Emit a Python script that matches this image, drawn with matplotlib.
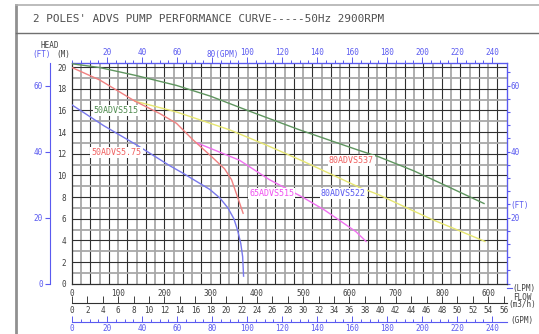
import numpy as np
import matplotlib.pyplot as plt
from matplotlib.lines import Line2D

# curve data: flow (LPM) vs head (m)
q_515 = [0, 60, 140, 226, 300, 379, 492, 621, 664, 740, 816, 891]
h_515 = [20.3, 19.95, 19.2, 18.3, 17.3, 16.0, 14.2, 12.3, 11.7, 10.4, 8.9, 7.4]

q_537 = [136, 226, 341, 420, 500, 621, 664, 729, 780, 837, 893]
h_537 = [16.85, 15.85, 14.2, 12.8, 11.3, 8.9, 8.2, 6.9, 5.9, 4.9, 3.9]

q_575 = [0, 60, 136, 190, 226, 261, 300, 330, 345, 358, 370]
h_575 = [19.95, 18.8, 16.85, 15.7, 14.8, 13.3, 11.8, 10.6, 9.6, 8.0, 6.5]

q_522 = [270, 362, 427, 498, 546, 614, 636]
h_522 = [13.0, 11.4, 9.6, 8.0, 6.8, 4.8, 3.9]

q_5515 = [0, 68, 140, 211, 240, 265, 298, 320, 337, 350, 358, 365, 369, 371]
h_5515 = [16.5, 14.6, 12.8, 10.9, 10.2, 9.55, 8.7, 7.9, 7.0, 6.0, 4.95, 3.7, 2.5, 0.7]

lpm_ticks = [0, 100, 200, 300, 400, 500, 600, 700, 800, 900]
lpm_labels = ["0", "100", "200", "300", "400", "500", "600", "700", "800", "600"]
head_ticks = [0, 2, 4, 6, 8, 10, 12, 14, 16, 18, 20]
m3h_ticks = list(range(0, 57, 2))
gpm_ticks = list(range(0, 241, 20))
ft_left = [0, 20, 40, 60]
ft_right = list(range(0, 65, 4))

LPM_PER_M3H = 1000 / 60
LPM_PER_GPM = 3.78541
FT_PER_M = 3.28084

FONT = "DejaVu Sans Mono"
plt.rcParams["font.family"] = FONT
BLUE = "#5a5af0"
TXT = "#404040"

fig = plt.figure(figsize=(5.39, 3.34), dpi=100)
W, H = 539, 334
ax_l, ax_r, ax_t, ax_b = 72, 506.7, 63, 283.7
ax = fig.add_axes([ax_l / W, 1 - ax_b / H, (ax_r - ax_l) / W, (ax_b - ax_t) / H])
ax.set_xlim(0, 940)
ax.set_ylim(0, 20.37)

# grid
for i, x in enumerate(range(20, 940, 20)):
    if i % 2 == 0:
        ax.axvline(x, color="#a8a8a8", lw=1.3, zorder=1)
    else:
        ax.axvline(x, color="#303030", lw=0.8, zorder=1)
for y in range(1, 21):
    if y % 2 == 1:
        ax.axhline(y, color="#a8a8a8", lw=1.3, zorder=1)
    else:
        ax.axhline(y, color="#303030", lw=0.8, zorder=1)

# curves
ax.plot(q_515, h_515, color="#5f955f", lw=1.0, zorder=3)
ax.plot(q_537, h_537, color="#e6e670", lw=1.0, zorder=3)
ax.plot(q_522, h_522, color="#f070f0", lw=1.0, zorder=3)
ax.plot(q_575, h_575, color="#f08080", lw=1.0, zorder=4)
ax.plot(q_5515, h_5515, color="#7878ec", lw=1.0, zorder=3)

# curve labels
lab = dict(fontsize=6, family=FONT, va="center", ha="left", zorder=5,
           bbox=dict(facecolor="white", edgecolor="none", pad=0.8))
ax.text(47, 16.0, "50ADVS515", color="#4d8a4d", **lab)
ax.text(42, 12.1, "50ADVS5.75", color="#f06060", **lab)
ax.text(555, 11.4, "80ADVS537", color="#f06060", **lab)
ax.text(383, 8.3, "65ADVS515", color="#f050f0", **lab)
ax.text(538, 8.3, "80ADVS522", color=BLUE, **lab)

for s in ax.spines.values():
    s.set_color("#303030")
    s.set_linewidth(0.9)
ax.spines["right"].set_color(BLUE)
ax.spines["top"].set_color(BLUE)

ax.set_xticks(lpm_ticks)
ax.set_xticklabels(lpm_labels)
ax.set_yticks(head_ticks)
ax.tick_params(axis="both", length=0, labelsize=5.5, colors=TXT)
ax.tick_params(axis="x", pad=3.5)
ax.tick_params(axis="y", pad=4)

# top GPM axis
top = ax.secondary_xaxis("top", functions=(lambda q: q / LPM_PER_GPM, lambda g: g * LPM_PER_GPM))
top.set_xticks(gpm_ticks[1:])
top.set_xticklabels([("" if g == 80 else str(g)) for g in gpm_ticks[1:]])
top.set_xticks(list(range(0, 245, 5)), minor=True)
top.tick_params(which="major", direction="out", length=4, width=0.7, colors=BLUE, labelsize=5.5, pad=0.5)
top.tick_params(which="minor", direction="out", length=2.5, width=0.7, colors=BLUE)
top.spines["top"].set_color(BLUE)
ax.text(80 * LPM_PER_GPM - 12, 1.016, "80(GPM)", transform=ax.get_xaxis_transform(),
        fontsize=5.5, color=BLUE, ha="left", va="bottom")

# bottom m3/h axis
m3 = ax.secondary_xaxis(-(303 - ax_b) / (ax_b - ax_t),
                        functions=(lambda q: q / LPM_PER_M3H, lambda v: v * LPM_PER_M3H))
m3.set_xticks(m3h_ticks)
m3.tick_params(direction="in", length=5, width=0.7, colors=TXT, labelsize=5.5, pad=2.5)
m3.spines["bottom"].set_color("#303030")
m3.spines["bottom"].set_linewidth(0.8)

# bottom GPM axis
gp = ax.secondary_xaxis(-(321.7 - ax_b) / (ax_b - ax_t),
                        functions=(lambda q: q / LPM_PER_GPM, lambda g: g * LPM_PER_GPM))
gp.set_xticks(gpm_ticks)
gp.set_xticks(list(range(0, 241, 5)), minor=True)
gp.tick_params(which="major", direction="in", length=4, width=0.7, colors=BLUE, labelsize=5.5, pad=2)
gp.tick_params(which="minor", direction="in", length=2.5, width=0.7, colors=BLUE)
gp.spines["bottom"].set_color(BLUE)
gp.spines["bottom"].set_linewidth(0.8)

# left FT axis
lf = ax.secondary_yaxis(-(ax_l - 50) / (ax_r - ax_l),
                        functions=(lambda m: m * FT_PER_M, lambda f: f / FT_PER_M))
lf.set_yticks(ft_left)
lf.tick_params(direction="out", length=3.5, width=0.8, colors=BLUE, labelsize=5.5, pad=1.5)
lf.spines["left"].set_color(BLUE)

# right FT axis
rf = ax.secondary_yaxis("right", functions=(lambda m: m * FT_PER_M, lambda f: f / FT_PER_M))
rf.set_yticks(ft_right)
rf.set_yticklabels([{20: "20", 24: "(FT)", 40: "40", 60: "60"}.get(f, "") for f in ft_right])
rf.tick_params(direction="out", length=2.5, width=0.8, colors=BLUE, labelsize=5.5, pad=0.5)
rf.spines["right"].set_color(BLUE)

# axis captions
def ftxt(x, y, s, **kw):
    fig.text(x / W, 1 - y / H, s, fontsize=kw.pop("fontsize", 5.5), va="center", **kw)

ftxt(50, 45, "HEAD", color=TXT, ha="center")
ftxt(42, 54, "(FT)", color=BLUE, ha="center")
ftxt(63, 54, "(M)", color=TXT, ha="center")
ftxt(512, 289, "(LPM)", color=TXT, ha="left")
ftxt(522, 297, "FLOW", color=TXT, ha="center")
ftxt(522, 305, "(m3/h)", color=TXT, ha="center")
ftxt(522, 321, "(GPM)", color=TXT, ha="center")
fig.add_artist(Line2D([ax_r / W, 512 / W], [1 - 287.5 / H] * 2, color=BLUE, lw=0.8))

# frame and title
fig.add_artist(Line2D([16 / W, 16 / W], [0, 1 - 5 / H], color="#909090", lw=2))
fig.add_artist(Line2D([16 / W, 1], [1 - 5 / H] * 2, color="#b0b0b0", lw=1.2))
fig.add_artist(Line2D([16 / W, 1], [1 - 33 / H] * 2, color="#707070", lw=1.0))
fig.text(33 / W, 1 - 19 / H, "2 POLES' ADVS PUMP PERFORMANCE CURVE-----50Hz 2900RPM",
         fontsize=7.9, color="#505050", ha="left", va="center")

fig.savefig("out.png", dpi=100, facecolor="white")
